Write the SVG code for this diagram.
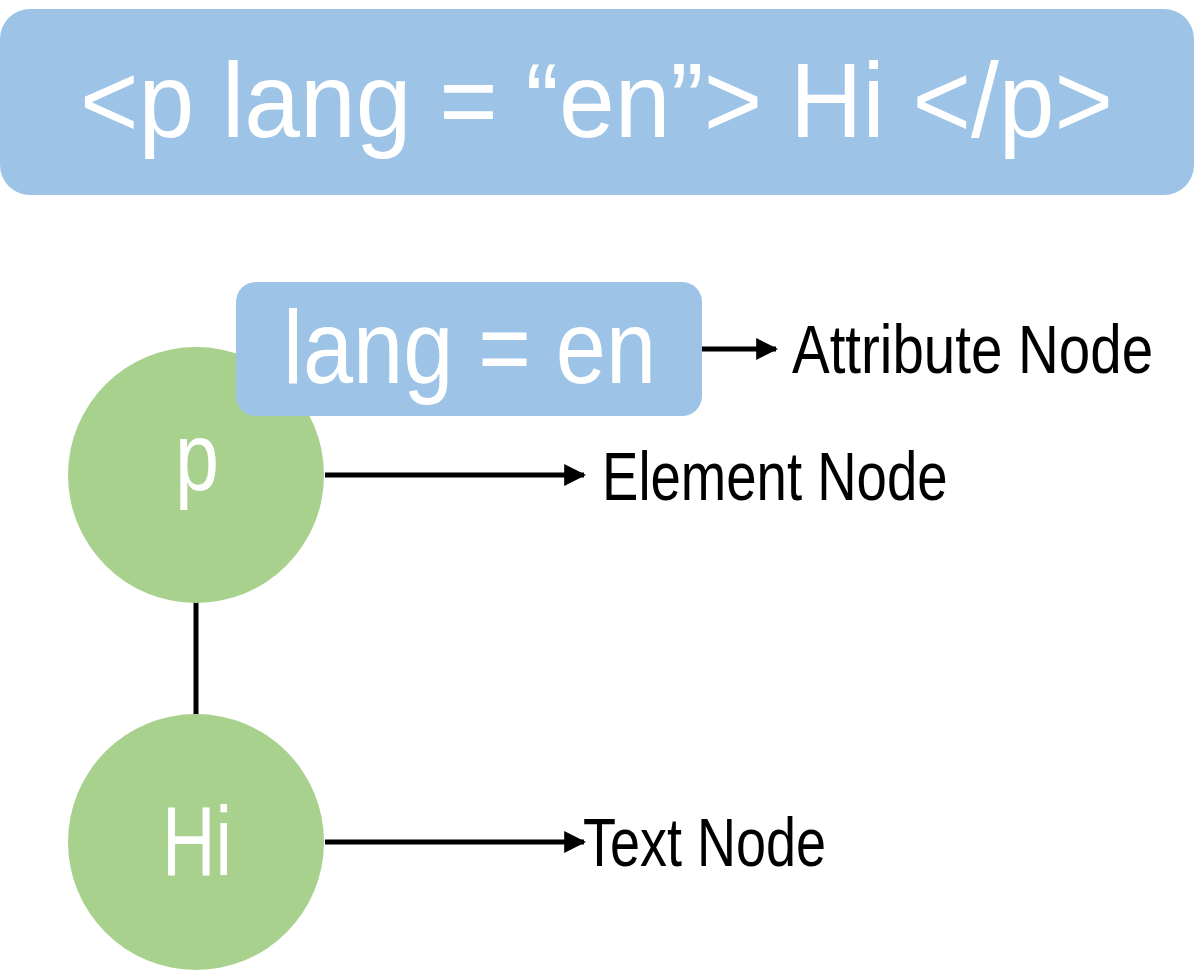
<svg xmlns="http://www.w3.org/2000/svg" width="1199" height="977" viewBox="0 0 1199 977">
  <defs>
    <style>
      .blue { fill: #9DC3E6; }
      .green { fill: #A9D18E; }
      .wt { fill: #FFFFFF; font-family: "Liberation Sans", "DejaVu Sans", sans-serif; }
      .lbl { fill: #000000; font-family: "Liberation Sans", "DejaVu Sans", sans-serif; font-size: 68px; }
      .wire { stroke: #000000; stroke-width: 5; fill: none; }
    </style>
    <marker id="arrow" viewBox="0 0 10 10" refX="9" refY="5" markerWidth="4.4" markerHeight="4.4" orient="auto" markerUnits="strokeWidth">
      <path d="M0,0 L10,5 L0,10 z" fill="#000000"/>
    </marker>
  </defs>

  <!-- markup banner -->
  <g id="markup">
    <rect class="blue" x="0" y="9" width="1194" height="186" rx="30" ry="30"/>
    <text class="wt" x="80" y="137" font-size="106" textLength="1033" lengthAdjust="spacingAndGlyphs">&lt;p lang = “en”&gt; Hi &lt;/p&gt;</text>
  </g>

  <!-- connectors -->
  <g id="connectors">
    <line class="wire" x1="196" y1="598" x2="196" y2="720"/>
    <line class="wire" x1="702" y1="349" x2="776" y2="349" marker-end="url(#arrow)"/>
    <line class="wire" x1="325" y1="475" x2="584" y2="475" marker-end="url(#arrow)"/>
    <line class="wire" x1="325" y1="842" x2="584" y2="842" marker-end="url(#arrow)"/>
  </g>

  <!-- element node -->
  <g id="node-p">
    <circle class="green" cx="196" cy="475" r="128"/>
    <text class="wt" x="197" y="490" font-size="96" text-anchor="middle" textLength="44" lengthAdjust="spacingAndGlyphs">p</text>
  </g>

  <!-- attribute node -->
  <g id="node-attr">
    <rect class="blue" x="236" y="282" width="466" height="134" rx="20" ry="20"/>
    <text class="wt" x="283" y="383" font-size="104" textLength="373" lengthAdjust="spacingAndGlyphs">lang = en</text>
  </g>

  <!-- text node -->
  <g id="node-hi">
    <circle class="green" cx="196" cy="842" r="128"/>
    <text class="wt" x="197" y="875" font-size="98" text-anchor="middle" textLength="70" lengthAdjust="spacingAndGlyphs">Hi</text>
  </g>

  <!-- legend labels (narrowed horizontally) -->
  <g id="label-attr" transform="translate(792,373) scale(0.83,1)">
    <text class="lbl" x="0" y="0" textLength="435" lengthAdjust="spacingAndGlyphs">Attribute Node</text>
  </g>
  <g id="label-element" transform="translate(602,500) scale(0.80,1)">
    <text class="lbl" x="0" y="0" textLength="432" lengthAdjust="spacingAndGlyphs">Element Node</text>
  </g>
  <g id="label-text" transform="translate(583,866) scale(0.774,1)">
    <text class="lbl" x="0" y="0" textLength="314" lengthAdjust="spacingAndGlyphs">Text Node</text>
  </g>
</svg>
